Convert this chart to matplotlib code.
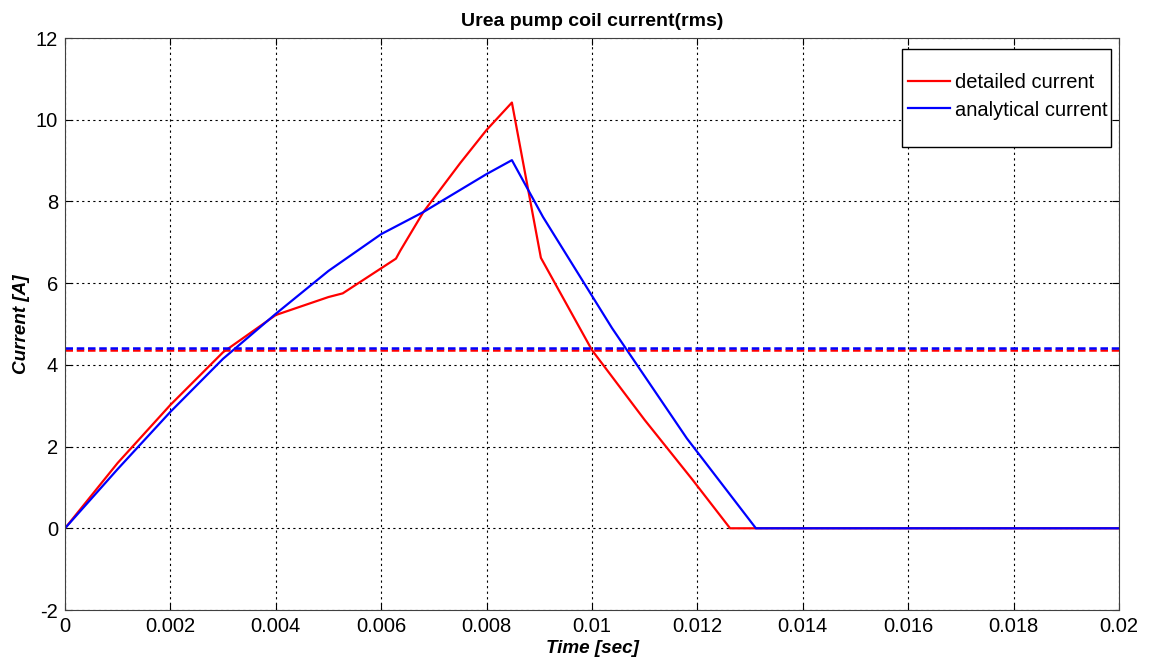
import numpy as np
import matplotlib
matplotlib.use('Agg')
import matplotlib.pyplot as plt
from matplotlib.patches import Rectangle

plt.rcParams['font.family'] = ['Liberation Sans', 'DejaVu Sans']
plt.rcParams['axes.unicode_minus'] = False

# detailed (simulated) coil current
t_detailed = [0, 0.001, 0.002, 0.003, 0.004, 0.005, 0.00527, 0.00628, 0.00636, 0.0068,
              0.0075, 0.008, 0.00848, 0.00903, 0.0100, 0.011, 0.0119, 0.01262, 0.0131, 0.02]
i_detailed = [0, 1.6, 3.02, 4.31, 5.22, 5.66, 5.75, 6.6, 6.79, 7.74,
              8.94, 9.75, 10.42, 6.62, 4.36, 2.65, 1.2, 0, 0, 0]

# analytical coil current
t_analytical = [0, 0.001, 0.002, 0.003, 0.004, 0.005, 0.006, 0.0068, 0.008, 0.00848,
                0.00907, 0.01038, 0.0118, 0.01311, 0.02]
i_analytical = [0, 1.45, 2.85, 4.15, 5.25, 6.3, 7.2, 7.74, 8.67, 9.01,
                7.62, 4.9, 2.2, 0, 0]

# rms values
rms_detailed = 4.36
rms_analytical = 4.42

W, H = 1149, 661
fig = plt.figure(figsize=(W / 100, H / 100), dpi=100)
ax = fig.add_axes([65 / W, 1 - 610 / H, (1119 - 65) / W, (610 - 38) / H])

ax.plot(t_detailed, i_detailed, color='red', lw=1.6, label='detailed current')
ax.plot(t_analytical, i_analytical, color='blue', lw=1.6, label='analytical current')
ax.axhline(rms_detailed, color='red', lw=1.8, ls=(0, (3, 1.5)))
ax.axhline(rms_analytical, color='blue', lw=1.8, ls=(0, (3, 1.5)))

ax.set_xlim(0, 0.02)
ax.set_ylim(-2, 12)
xt = np.arange(0, 0.0201, 0.002)
ax.set_xticks(xt)
ax.set_xticklabels(['0', '0.002', '0.004', '0.006', '0.008', '0.01', '0.012',
                    '0.014', '0.016', '0.018', '0.02'])
ax.set_yticks(np.arange(-2, 13, 2))
ax.grid(True, color='black', ls=(0, (2, 3)), lw=0.8)
ax.tick_params(direction='in', length=5, labelsize=14.5, colors='black', top=True, right=True,
               labeltop=False, labelright=False, pad=5)
for s in ax.spines.values():
    s.set_color('#404040')

ax.set_title('Urea pump coil current(rms)', fontsize=14, fontweight='bold', pad=9)
ax.set_xlabel('Time [sec]', fontsize=13.6, fontweight='bold', style='italic', labelpad=3)
ax.set_ylabel('Current [A]', fontsize=13.6, fontweight='bold', style='italic', labelpad=4)

# legend box like MATLAB (extra vertical padding)
box = Rectangle((902 / W, 1 - 147 / H), (1111 - 902) / W, (147 - 49) / H,
                transform=fig.transFigure, facecolor='white', edgecolor='black',
                lw=1.0, zorder=10, clip_on=False)
ax.add_patch(box)
leg = ax.legend(loc='upper left', bbox_to_anchor=(902 / W, 1 - 67 / H),
                bbox_transform=fig.transFigure, fontsize=14.5, frameon=False,
                borderpad=0.3, borderaxespad=0, handlelength=2.1,
                handletextpad=0.25, labelspacing=0.42)
leg.set_zorder(11)

fig.savefig('out.png', dpi=100)
